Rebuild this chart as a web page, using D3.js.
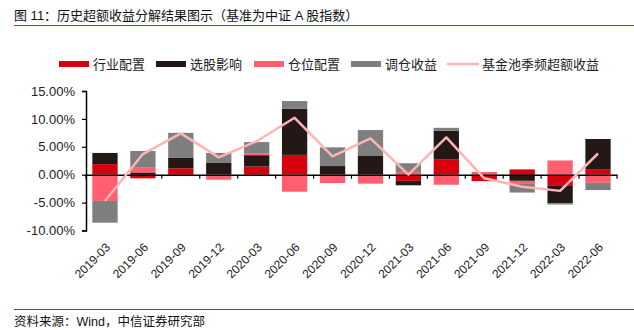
<!DOCTYPE html>
<html><head><meta charset="utf-8">
<script src="https://cdn.jsdelivr.net/npm/d3@7"></script>
<style>
html,body{margin:0;padding:0;background:#fff;}
svg{display:block;}
text{font-family:"Liberation Sans","Noto Sans CJK SC",sans-serif;}
.cjk{font-family:"Liberation Sans","Noto Sans CJK SC",sans-serif;}
</style></head>
<body>
<script>
const categories = ["2019-03","2019-06","2019-09","2019-12","2020-03","2020-06","2020-09","2020-12","2021-03","2021-06","2021-09","2021-12","2022-03","2022-06"];
const industry  = [1.9, -0.65, 1.15, 0, 1.45, 3.55, 0, 0, -1.1, 2.7, -1.15, 0.95, -1.9, 1.0];
const stockPick = [2.0, 0.4, 1.85, 2.1, 2.05, 8.25, 1.55, 3.35, -0.8, 5.15, 0, -1.1, -3.2, 5.4];
const position  = [-4.7, 0.85, 0, -0.9, 0.35, -3.05, -1.5, -1.6, 0.5, -1.8, 0.5, -0.55, 2.55, -1.45];
const rebalance = [-3.9, 3.0, 4.5, 1.8, 2.0, 1.4, 3.35, 4.65, 1.55, 0.55, 0, -1.55, -0.25, -1.3];
const excess    = [-4.7, 3.7, 7.4, 3.1, 6.0, 10.2, 3.3, 6.5, 0.0, 6.7, -0.65, -2.15, -2.9, 3.8];
const yTicks = [-10, -5, 0, 5, 10, 15];
const seriesNames = ["行业配置","选股影响","仓位配置","调仓收益"];
const lineName = "基金池季频超额收益";
const colors = ["#d7000f","#231815","#ff5f6e","#7f7f7f"];
const lineColor = "#ffb4b4";

const W = 634, H = 330;
const svg = d3.select("body").append("svg").attr("width", W).attr("height", H);

// title
svg.append("text").attr("x", 14).attr("y", 20).attr("font-size", 13).attr("fill", "#111")
  .text("图 11：历史超额收益分解结果图示（基准为中证 A 股指数）");
svg.append("line").attr("x1", 14).attr("x2", W).attr("y1", 25.5).attr("y2", 25.5)
  .attr("stroke", "#c0282d").attr("stroke-width", 1.2);

// footer
svg.append("line").attr("x1", 14).attr("x2", W).attr("y1", 309.5).attr("y2", 309.5)
  .attr("stroke", "#c0282d").attr("stroke-width", 1.2);
svg.append("text").attr("x", 14).attr("y", 326).attr("font-size", 12.5).attr("fill", "#111")
  .text("资料来源：Wind，中信证券研究部");

// scales
const x = d3.scaleBand().domain(categories).range([86, 617]).paddingInner(0.333).paddingOuter(0.1667);
const y = d3.scaleLinear().domain([-10, 15]).range([230.5, 91]);

// stacked data
const table = categories.map((c, i) => ({cat: c, s0: industry[i], s1: stockPick[i], s2: position[i], s3: rebalance[i]}));
const stack = d3.stack().keys(["s0","s1","s2","s3"]).offset(d3.stackOffsetDiverging);
const stacked = stack(table);

const g = svg.append("g");
stacked.forEach((layer, li) => {
  g.selectAll(null).data(layer).enter().append("rect")
    .attr("x", d => x(d.data.cat))
    .attr("width", x.bandwidth())
    .attr("y", d => y(Math.max(d[0], d[1])))
    .attr("height", d => Math.abs(y(d[0]) - y(d[1])))
    .attr("fill", colors[li]);
});

// y axis
const yAxis = d3.axisLeft(y).tickValues(yTicks).tickFormat(d => d.toFixed(2) + "%").tickSizeOuter(0).tickSize(4).tickPadding(7);
const ya = svg.append("g").attr("transform", "translate(86,0)").call(yAxis);
ya.select(".domain").attr("stroke", "#000").attr("stroke-width", 1.5);
ya.selectAll(".tick line").attr("stroke", "#000").attr("stroke-width", 1.2);
ya.selectAll(".tick text").attr("font-size", 13).attr("fill", "#222").attr("font-family", "Liberation Sans, sans-serif");

// x axis at zero
const xAxis = d3.axisBottom(x).tickSize(0).tickFormat("");
const xa = svg.append("g").attr("transform", `translate(0,${y(0)})`).call(xAxis);
xa.select(".domain").attr("stroke", "#000").attr("stroke-width", 1.5);
// boundary ticks
const bounds = categories.map(c => x(c) - x.step() * x.paddingInner() / 2).concat([617]);
xa.selectAll(".btick").data(bounds).enter().append("line")
  .attr("x1", d => d).attr("x2", d => d).attr("y1", 0).attr("y2", 4)
  .attr("stroke", "#000").attr("stroke-width", 1.2);

// x labels rotated
svg.append("g").selectAll("text").data(categories).enter().append("text")
  .attr("transform", d => `translate(${x(d) + x.bandwidth() / 2 + 3},${245}) rotate(-45)`)
  .attr("text-anchor", "end").attr("dy", "0.35em")
  .attr("font-size", 12).attr("fill", "#222")
  .text(d => d);

// line
const line = d3.line().x((d, i) => x(categories[i]) + x.bandwidth() / 2).y(d => y(d));
svg.append("path").datum(excess).attr("d", line).attr("fill", "none")
  .attr("stroke", lineColor).attr("stroke-width", 2.5).attr("stroke-linejoin", "round");

// legend
const legend = svg.append("g");
const legItems = [
  {name: seriesNames[0], color: colors[0], x: 59, type: "rect"},
  {name: seriesNames[1], color: colors[1], x: 156, type: "rect"},
  {name: seriesNames[2], color: colors[2], x: 254, type: "rect"},
  {name: seriesNames[3], color: colors[3], x: 351, type: "rect"},
  {name: lineName, color: lineColor, x: 447, type: "line"}
];
legItems.forEach(it => {
  if (it.type === "rect") {
    legend.append("rect").attr("x", it.x).attr("y", 61).attr("width", 30).attr("height", 6).attr("fill", it.color);
  } else {
    legend.append("line").attr("x1", it.x).attr("x2", it.x + 32).attr("y1", 64).attr("y2", 64)
      .attr("stroke", it.color).attr("stroke-width", 2.5);
  }
  legend.append("text").attr("x", it.x + (it.type === "rect" ? 34 : 35)).attr("y", 64).attr("dy", "0.36em")
    .attr("font-size", 13).attr("fill", "#222").text(it.name);
});
</script>
</body></html>
